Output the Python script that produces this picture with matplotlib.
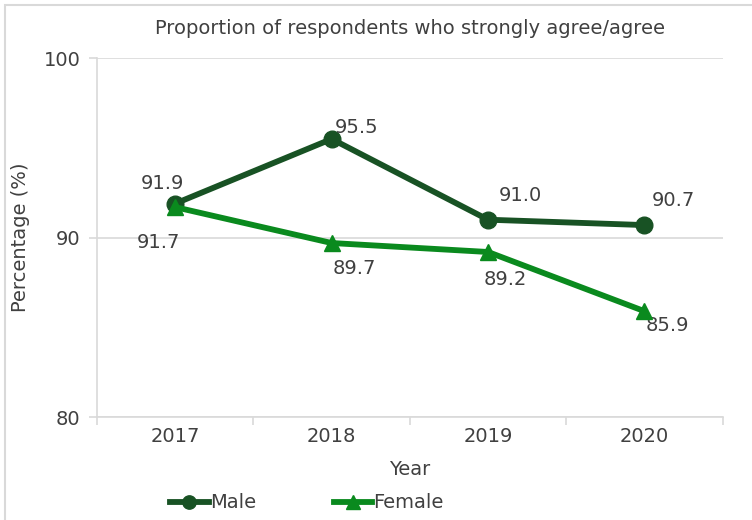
import matplotlib.pyplot as plt
from matplotlib.patches import Rectangle

years = ["2017", "2018", "2019", "2020"]
male = [91.9, 95.5, 91.0, 90.7]
female = [91.7, 89.7, 89.2, 85.9]

# label offsets in pixels (dx, dy) relative to each point
male_offsets = [(-13, 20), (25, 11), (32, 24), (29, 25)]
female_offsets = [(-17, -35), (23, -25), (17, -28), (23, -14)]

c_male = "#185224"
c_female = "#0a8a1e"
c_text = "#404040"
c_grid = "#d9d9d9"

plt.rcParams["font.family"] = ["DejaVu Sans"]

fig = plt.figure(figsize=(7.52, 5.2), dpi=100)
ax = fig.add_axes([0.129, 0.198, 0.832, 0.690])

x = list(range(len(years)))
ax.plot(x, male, color=c_male, linewidth=4.2, marker="o", markersize=12,
        label="Male", zorder=3)
ax.plot(x, female, color=c_female, linewidth=4.2, marker="^", markersize=12,
        label="Female", zorder=4)

for xi, v, (dx, dy) in zip(x, male, male_offsets):
    ax.annotate(f"{v:.1f}", (xi, v), xytext=(dx, dy), textcoords="offset pixels",
                ha="center", va="center", fontsize=14, color=c_text)
for xi, v, (dx, dy) in zip(x, female, female_offsets):
    ax.annotate(f"{v:.1f}", (xi, v), xytext=(dx, dy), textcoords="offset pixels",
                ha="center", va="center", fontsize=14, color=c_text)

ax.set_xlim(-0.5, len(years) - 0.5)
ax.set_ylim(80, 100)
ax.set_yticks([80, 90, 100])
ax.yaxis.grid(True, color=c_grid, linewidth=1.2)
ax.set_axisbelow(True)

# category ticks sit between the labels
ax.set_xticks([i - 0.5 for i in range(len(years) + 1)])
ax.set_xticklabels([])
ax.set_xticks(x, minor=True)
ax.set_xticklabels(years, minor=True)
ax.tick_params(axis="x", which="major", length=6, color=c_grid, width=1.2)
ax.tick_params(axis="x", which="minor", length=0, pad=7, labelsize=14,
               labelcolor=c_text)
ax.tick_params(axis="y", length=6, color=c_grid, width=1.2, labelsize=14,
               labelcolor=c_text, pad=6)

for side in ["top", "right"]:
    ax.spines[side].set_visible(False)
for side in ["left", "bottom"]:
    ax.spines[side].set_color(c_grid)
    ax.spines[side].set_linewidth(1.2)

ax.set_xlabel("Year", fontsize=14, color=c_text, labelpad=10)
ax.set_ylabel("Percentage (%)", fontsize=14, color=c_text, labelpad=10)
fig.text(0.545, 0.945, "Proportion of respondents who strongly agree/agree",
         ha="center", va="center", fontsize=14, color=c_text)

fig.legend(loc="center", bbox_to_anchor=(0.408, 0.033), ncol=2, frameon=False,
           fontsize=14, labelcolor=c_text, handlelength=2.0, handletextpad=0.05,
           columnspacing=4.0, markerscale=0.8)

fig.patches.append(Rectangle((0.007, -0.01), 1.0, 1.0, transform=fig.transFigure,
                             fill=False, edgecolor="#d9d9d9", linewidth=1.5))

fig.savefig("out.png", dpi=100)
